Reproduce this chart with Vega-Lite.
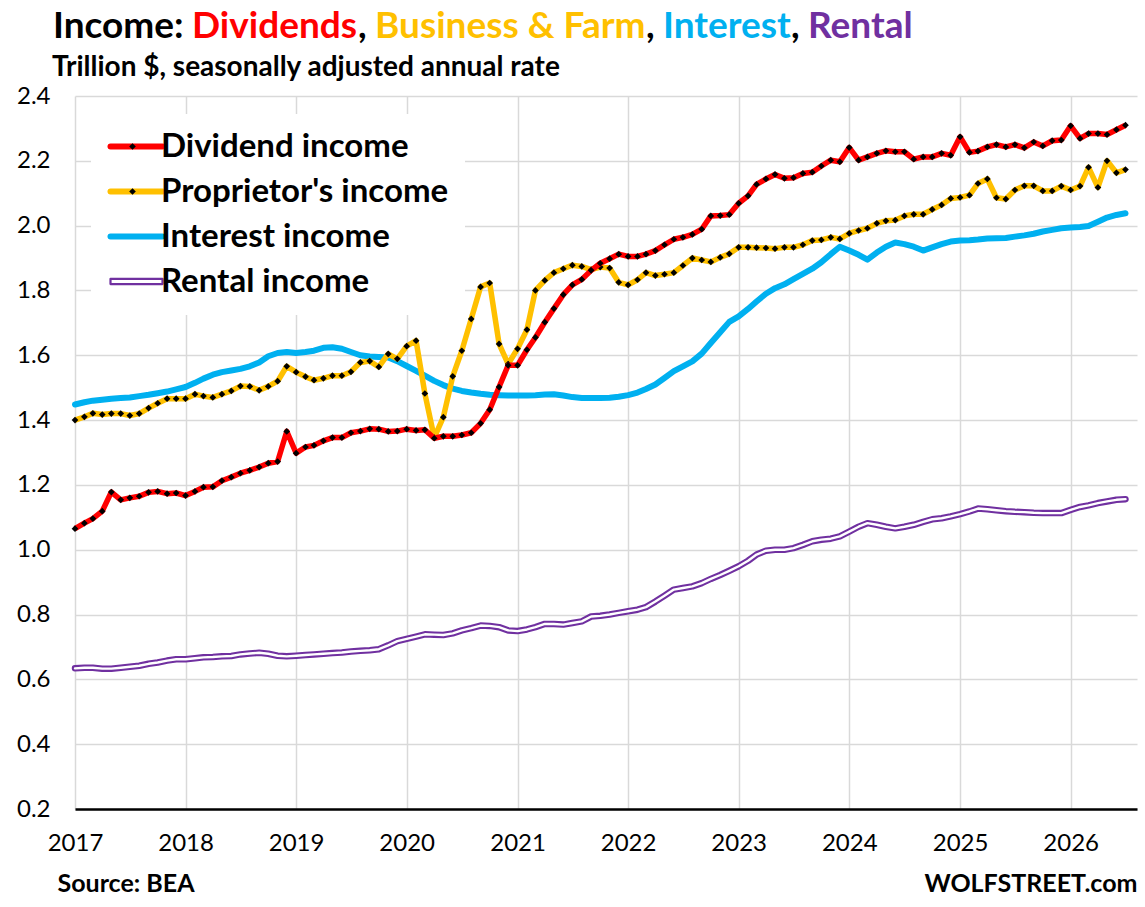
{
  "$schema": "https://vega.github.io/schema/vega-lite/v6.json",
  "background": "white",
  "padding": {"left": 16, "right": 8, "top": 8, "bottom": 4},
  "datasets": {
    "dividend": [
      {"month": "2017-01", "value": 1.065}, {"month": "2017-02", "value": 1.082}, {"month": "2017-03", "value": 1.096}, {"month": "2017-04", "value": 1.119},
      {"month": "2017-05", "value": 1.178}, {"month": "2017-06", "value": 1.154}, {"month": "2017-07", "value": 1.16}, {"month": "2017-08", "value": 1.165},
      {"month": "2017-09", "value": 1.177}, {"month": "2017-10", "value": 1.18}, {"month": "2017-11", "value": 1.173}, {"month": "2017-12", "value": 1.175},
      {"month": "2018-01", "value": 1.167}, {"month": "2018-02", "value": 1.18}, {"month": "2018-03", "value": 1.193}, {"month": "2018-04", "value": 1.194},
      {"month": "2018-05", "value": 1.213}, {"month": "2018-06", "value": 1.224}, {"month": "2018-07", "value": 1.236}, {"month": "2018-08", "value": 1.245},
      {"month": "2018-09", "value": 1.255}, {"month": "2018-10", "value": 1.267}, {"month": "2018-11", "value": 1.272}, {"month": "2018-12", "value": 1.365},
      {"month": "2019-01", "value": 1.298}, {"month": "2019-02", "value": 1.317}, {"month": "2019-03", "value": 1.322}, {"month": "2019-04", "value": 1.336},
      {"month": "2019-05", "value": 1.346}, {"month": "2019-06", "value": 1.346}, {"month": "2019-07", "value": 1.361}, {"month": "2019-08", "value": 1.366},
      {"month": "2019-09", "value": 1.373}, {"month": "2019-10", "value": 1.372}, {"month": "2019-11", "value": 1.365}, {"month": "2019-12", "value": 1.366},
      {"month": "2020-01", "value": 1.372}, {"month": "2020-02", "value": 1.368}, {"month": "2020-03", "value": 1.37}, {"month": "2020-04", "value": 1.344},
      {"month": "2020-05", "value": 1.35}, {"month": "2020-06", "value": 1.35}, {"month": "2020-07", "value": 1.354}, {"month": "2020-08", "value": 1.361},
      {"month": "2020-09", "value": 1.39}, {"month": "2020-10", "value": 1.432}, {"month": "2020-11", "value": 1.502}, {"month": "2020-12", "value": 1.569},
      {"month": "2021-01", "value": 1.569}, {"month": "2021-02", "value": 1.617}, {"month": "2021-03", "value": 1.655}, {"month": "2021-04", "value": 1.702},
      {"month": "2021-05", "value": 1.744}, {"month": "2021-06", "value": 1.787}, {"month": "2021-07", "value": 1.817}, {"month": "2021-08", "value": 1.834},
      {"month": "2021-09", "value": 1.862}, {"month": "2021-10", "value": 1.884}, {"month": "2021-11", "value": 1.898}, {"month": "2021-12", "value": 1.912},
      {"month": "2022-01", "value": 1.905}, {"month": "2022-02", "value": 1.905}, {"month": "2022-03", "value": 1.912}, {"month": "2022-04", "value": 1.923},
      {"month": "2022-05", "value": 1.941}, {"month": "2022-06", "value": 1.958}, {"month": "2022-07", "value": 1.964}, {"month": "2022-08", "value": 1.973},
      {"month": "2022-09", "value": 1.989}, {"month": "2022-10", "value": 2.03}, {"month": "2022-11", "value": 2.031}, {"month": "2022-12", "value": 2.034},
      {"month": "2023-01", "value": 2.069}, {"month": "2023-02", "value": 2.092}, {"month": "2023-03", "value": 2.127}, {"month": "2023-04", "value": 2.144},
      {"month": "2023-05", "value": 2.158}, {"month": "2023-06", "value": 2.146}, {"month": "2023-07", "value": 2.148}, {"month": "2023-08", "value": 2.161},
      {"month": "2023-09", "value": 2.165}, {"month": "2023-10", "value": 2.184}, {"month": "2023-11", "value": 2.202}, {"month": "2023-12", "value": 2.197},
      {"month": "2024-01", "value": 2.241}, {"month": "2024-02", "value": 2.202}, {"month": "2024-03", "value": 2.212}, {"month": "2024-04", "value": 2.223},
      {"month": "2024-05", "value": 2.231}, {"month": "2024-06", "value": 2.228}, {"month": "2024-07", "value": 2.228}, {"month": "2024-08", "value": 2.205},
      {"month": "2024-09", "value": 2.212}, {"month": "2024-10", "value": 2.212}, {"month": "2024-11", "value": 2.223}, {"month": "2024-12", "value": 2.217},
      {"month": "2025-01", "value": 2.274}, {"month": "2025-02", "value": 2.226}, {"month": "2025-03", "value": 2.23}, {"month": "2025-04", "value": 2.243},
      {"month": "2025-05", "value": 2.25}, {"month": "2025-06", "value": 2.243}, {"month": "2025-07", "value": 2.25}, {"month": "2025-08", "value": 2.24},
      {"month": "2025-09", "value": 2.258}, {"month": "2025-10", "value": 2.246}, {"month": "2025-11", "value": 2.262}, {"month": "2025-12", "value": 2.264},
      {"month": "2026-01", "value": 2.308}, {"month": "2026-02", "value": 2.269}, {"month": "2026-03", "value": 2.284}, {"month": "2026-04", "value": 2.284},
      {"month": "2026-05", "value": 2.281}, {"month": "2026-06", "value": 2.296}, {"month": "2026-07", "value": 2.31}
    ],
    "proprietor": [
      {"month": "2017-01", "value": 1.4}, {"month": "2017-02", "value": 1.41}, {"month": "2017-03", "value": 1.421}, {"month": "2017-04", "value": 1.417},
      {"month": "2017-05", "value": 1.42}, {"month": "2017-06", "value": 1.42}, {"month": "2017-07", "value": 1.414}, {"month": "2017-08", "value": 1.42},
      {"month": "2017-09", "value": 1.437}, {"month": "2017-10", "value": 1.452}, {"month": "2017-11", "value": 1.466}, {"month": "2017-12", "value": 1.466},
      {"month": "2018-01", "value": 1.466}, {"month": "2018-02", "value": 1.48}, {"month": "2018-03", "value": 1.474}, {"month": "2018-04", "value": 1.47},
      {"month": "2018-05", "value": 1.48}, {"month": "2018-06", "value": 1.49}, {"month": "2018-07", "value": 1.505}, {"month": "2018-08", "value": 1.504},
      {"month": "2018-09", "value": 1.492}, {"month": "2018-10", "value": 1.504}, {"month": "2018-11", "value": 1.52}, {"month": "2018-12", "value": 1.566},
      {"month": "2019-01", "value": 1.548}, {"month": "2019-02", "value": 1.534}, {"month": "2019-03", "value": 1.523}, {"month": "2019-04", "value": 1.529},
      {"month": "2019-05", "value": 1.537}, {"month": "2019-06", "value": 1.537}, {"month": "2019-07", "value": 1.549}, {"month": "2019-08", "value": 1.578},
      {"month": "2019-09", "value": 1.582}, {"month": "2019-10", "value": 1.564}, {"month": "2019-11", "value": 1.604}, {"month": "2019-12", "value": 1.589},
      {"month": "2020-01", "value": 1.628}, {"month": "2020-02", "value": 1.645}, {"month": "2020-03", "value": 1.482}, {"month": "2020-04", "value": 1.346},
      {"month": "2020-05", "value": 1.409}, {"month": "2020-06", "value": 1.535}, {"month": "2020-07", "value": 1.614}, {"month": "2020-08", "value": 1.712},
      {"month": "2020-09", "value": 1.811}, {"month": "2020-10", "value": 1.823}, {"month": "2020-11", "value": 1.635}, {"month": "2020-12", "value": 1.573},
      {"month": "2021-01", "value": 1.62}, {"month": "2021-02", "value": 1.679}, {"month": "2021-03", "value": 1.8}, {"month": "2021-04", "value": 1.831},
      {"month": "2021-05", "value": 1.855}, {"month": "2021-06", "value": 1.867}, {"month": "2021-07", "value": 1.878}, {"month": "2021-08", "value": 1.874},
      {"month": "2021-09", "value": 1.864}, {"month": "2021-10", "value": 1.872}, {"month": "2021-11", "value": 1.869}, {"month": "2021-12", "value": 1.825},
      {"month": "2022-01", "value": 1.817}, {"month": "2022-02", "value": 1.833}, {"month": "2022-03", "value": 1.855}, {"month": "2022-04", "value": 1.846},
      {"month": "2022-05", "value": 1.85}, {"month": "2022-06", "value": 1.855}, {"month": "2022-07", "value": 1.877}, {"month": "2022-08", "value": 1.9},
      {"month": "2022-09", "value": 1.894}, {"month": "2022-10", "value": 1.888}, {"month": "2022-11", "value": 1.902}, {"month": "2022-12", "value": 1.913},
      {"month": "2023-01", "value": 1.933}, {"month": "2023-02", "value": 1.933}, {"month": "2023-03", "value": 1.932}, {"month": "2023-04", "value": 1.931},
      {"month": "2023-05", "value": 1.929}, {"month": "2023-06", "value": 1.933}, {"month": "2023-07", "value": 1.933}, {"month": "2023-08", "value": 1.941},
      {"month": "2023-09", "value": 1.954}, {"month": "2023-10", "value": 1.956}, {"month": "2023-11", "value": 1.964}, {"month": "2023-12", "value": 1.959},
      {"month": "2024-01", "value": 1.976}, {"month": "2024-02", "value": 1.985}, {"month": "2024-03", "value": 1.992}, {"month": "2024-04", "value": 2.007},
      {"month": "2024-05", "value": 2.015}, {"month": "2024-06", "value": 2.017}, {"month": "2024-07", "value": 2.03}, {"month": "2024-08", "value": 2.035},
      {"month": "2024-09", "value": 2.035}, {"month": "2024-10", "value": 2.05}, {"month": "2024-11", "value": 2.064}, {"month": "2024-12", "value": 2.084},
      {"month": "2025-01", "value": 2.087}, {"month": "2025-02", "value": 2.094}, {"month": "2025-03", "value": 2.13}, {"month": "2025-04", "value": 2.144},
      {"month": "2025-05", "value": 2.086}, {"month": "2025-06", "value": 2.082}, {"month": "2025-07", "value": 2.11}, {"month": "2025-08", "value": 2.123},
      {"month": "2025-09", "value": 2.123}, {"month": "2025-10", "value": 2.107}, {"month": "2025-11", "value": 2.107}, {"month": "2025-12", "value": 2.122},
      {"month": "2026-01", "value": 2.11}, {"month": "2026-02", "value": 2.122}, {"month": "2026-03", "value": 2.18}, {"month": "2026-04", "value": 2.118},
      {"month": "2026-05", "value": 2.2}, {"month": "2026-06", "value": 2.163}, {"month": "2026-07", "value": 2.173}
    ],
    "interest": [
      {"month": "2017-01", "value": 1.448}, {"month": "2017-02", "value": 1.455}, {"month": "2017-03", "value": 1.46}, {"month": "2017-04", "value": 1.463},
      {"month": "2017-05", "value": 1.466}, {"month": "2017-06", "value": 1.468}, {"month": "2017-07", "value": 1.47}, {"month": "2017-08", "value": 1.474},
      {"month": "2017-09", "value": 1.478}, {"month": "2017-10", "value": 1.483}, {"month": "2017-11", "value": 1.488}, {"month": "2017-12", "value": 1.495},
      {"month": "2018-01", "value": 1.502}, {"month": "2018-02", "value": 1.515}, {"month": "2018-03", "value": 1.528}, {"month": "2018-04", "value": 1.54},
      {"month": "2018-05", "value": 1.548}, {"month": "2018-06", "value": 1.553}, {"month": "2018-07", "value": 1.558}, {"month": "2018-08", "value": 1.566},
      {"month": "2018-09", "value": 1.578}, {"month": "2018-10", "value": 1.597}, {"month": "2018-11", "value": 1.607}, {"month": "2018-12", "value": 1.61},
      {"month": "2019-01", "value": 1.607}, {"month": "2019-02", "value": 1.61}, {"month": "2019-03", "value": 1.614}, {"month": "2019-04", "value": 1.623},
      {"month": "2019-05", "value": 1.625}, {"month": "2019-06", "value": 1.62}, {"month": "2019-07", "value": 1.61}, {"month": "2019-08", "value": 1.6},
      {"month": "2019-09", "value": 1.596}, {"month": "2019-10", "value": 1.595}, {"month": "2019-11", "value": 1.593}, {"month": "2019-12", "value": 1.582},
      {"month": "2020-01", "value": 1.567}, {"month": "2020-02", "value": 1.552}, {"month": "2020-03", "value": 1.537}, {"month": "2020-04", "value": 1.521},
      {"month": "2020-05", "value": 1.508}, {"month": "2020-06", "value": 1.497}, {"month": "2020-07", "value": 1.49}, {"month": "2020-08", "value": 1.485},
      {"month": "2020-09", "value": 1.481}, {"month": "2020-10", "value": 1.478}, {"month": "2020-11", "value": 1.477}, {"month": "2020-12", "value": 1.476},
      {"month": "2021-01", "value": 1.476}, {"month": "2021-02", "value": 1.476}, {"month": "2021-03", "value": 1.477}, {"month": "2021-04", "value": 1.479},
      {"month": "2021-05", "value": 1.48}, {"month": "2021-06", "value": 1.476}, {"month": "2021-07", "value": 1.471}, {"month": "2021-08", "value": 1.468},
      {"month": "2021-09", "value": 1.468}, {"month": "2021-10", "value": 1.468}, {"month": "2021-11", "value": 1.469}, {"month": "2021-12", "value": 1.472},
      {"month": "2022-01", "value": 1.477}, {"month": "2022-02", "value": 1.485}, {"month": "2022-03", "value": 1.496}, {"month": "2022-04", "value": 1.51},
      {"month": "2022-05", "value": 1.53}, {"month": "2022-06", "value": 1.551}, {"month": "2022-07", "value": 1.566}, {"month": "2022-08", "value": 1.581},
      {"month": "2022-09", "value": 1.605}, {"month": "2022-10", "value": 1.638}, {"month": "2022-11", "value": 1.671}, {"month": "2022-12", "value": 1.703},
      {"month": "2023-01", "value": 1.72}, {"month": "2023-02", "value": 1.743}, {"month": "2023-03", "value": 1.766}, {"month": "2023-04", "value": 1.79},
      {"month": "2023-05", "value": 1.807}, {"month": "2023-06", "value": 1.819}, {"month": "2023-07", "value": 1.835}, {"month": "2023-08", "value": 1.851},
      {"month": "2023-09", "value": 1.867}, {"month": "2023-10", "value": 1.887}, {"month": "2023-11", "value": 1.912}, {"month": "2023-12", "value": 1.935},
      {"month": "2024-01", "value": 1.923}, {"month": "2024-02", "value": 1.91}, {"month": "2024-03", "value": 1.895}, {"month": "2024-04", "value": 1.917},
      {"month": "2024-05", "value": 1.935}, {"month": "2024-06", "value": 1.948}, {"month": "2024-07", "value": 1.943}, {"month": "2024-08", "value": 1.935},
      {"month": "2024-09", "value": 1.923}, {"month": "2024-10", "value": 1.933}, {"month": "2024-11", "value": 1.943}, {"month": "2024-12", "value": 1.951},
      {"month": "2025-01", "value": 1.954}, {"month": "2025-02", "value": 1.955}, {"month": "2025-03", "value": 1.957}, {"month": "2025-04", "value": 1.96},
      {"month": "2025-05", "value": 1.961}, {"month": "2025-06", "value": 1.962}, {"month": "2025-07", "value": 1.966}, {"month": "2025-08", "value": 1.97},
      {"month": "2025-09", "value": 1.975}, {"month": "2025-10", "value": 1.982}, {"month": "2025-11", "value": 1.987}, {"month": "2025-12", "value": 1.992},
      {"month": "2026-01", "value": 1.994}, {"month": "2026-02", "value": 1.996}, {"month": "2026-03", "value": 1.999}, {"month": "2026-04", "value": 2.012},
      {"month": "2026-05", "value": 2.025}, {"month": "2026-06", "value": 2.033}, {"month": "2026-07", "value": 2.038}
    ],
    "rental": [
      {"month": "2017-01", "value": 0.634}, {"month": "2017-02", "value": 0.636}, {"month": "2017-03", "value": 0.636}, {"month": "2017-04", "value": 0.633},
      {"month": "2017-05", "value": 0.633}, {"month": "2017-06", "value": 0.636}, {"month": "2017-07", "value": 0.639}, {"month": "2017-08", "value": 0.642},
      {"month": "2017-09", "value": 0.648}, {"month": "2017-10", "value": 0.652}, {"month": "2017-11", "value": 0.658}, {"month": "2017-12", "value": 0.662},
      {"month": "2018-01", "value": 0.662}, {"month": "2018-02", "value": 0.665}, {"month": "2018-03", "value": 0.668}, {"month": "2018-04", "value": 0.669},
      {"month": "2018-05", "value": 0.671}, {"month": "2018-06", "value": 0.672}, {"month": "2018-07", "value": 0.677}, {"month": "2018-08", "value": 0.68},
      {"month": "2018-09", "value": 0.682}, {"month": "2018-10", "value": 0.679}, {"month": "2018-11", "value": 0.673}, {"month": "2018-12", "value": 0.671},
      {"month": "2019-01", "value": 0.673}, {"month": "2019-02", "value": 0.675}, {"month": "2019-03", "value": 0.677}, {"month": "2019-04", "value": 0.679},
      {"month": "2019-05", "value": 0.681}, {"month": "2019-06", "value": 0.683}, {"month": "2019-07", "value": 0.686}, {"month": "2019-08", "value": 0.688},
      {"month": "2019-09", "value": 0.69}, {"month": "2019-10", "value": 0.693}, {"month": "2019-11", "value": 0.705}, {"month": "2019-12", "value": 0.718},
      {"month": "2020-01", "value": 0.725}, {"month": "2020-02", "value": 0.732}, {"month": "2020-03", "value": 0.739}, {"month": "2020-04", "value": 0.738},
      {"month": "2020-05", "value": 0.737}, {"month": "2020-06", "value": 0.742}, {"month": "2020-07", "value": 0.751}, {"month": "2020-08", "value": 0.758},
      {"month": "2020-09", "value": 0.766}, {"month": "2020-10", "value": 0.765}, {"month": "2020-11", "value": 0.761}, {"month": "2020-12", "value": 0.751},
      {"month": "2021-01", "value": 0.749}, {"month": "2021-02", "value": 0.754}, {"month": "2021-03", "value": 0.761}, {"month": "2021-04", "value": 0.771},
      {"month": "2021-05", "value": 0.771}, {"month": "2021-06", "value": 0.769}, {"month": "2021-07", "value": 0.774}, {"month": "2021-08", "value": 0.779},
      {"month": "2021-09", "value": 0.794}, {"month": "2021-10", "value": 0.796}, {"month": "2021-11", "value": 0.8}, {"month": "2021-12", "value": 0.805},
      {"month": "2022-01", "value": 0.81}, {"month": "2022-02", "value": 0.815}, {"month": "2022-03", "value": 0.823}, {"month": "2022-04", "value": 0.84},
      {"month": "2022-05", "value": 0.858}, {"month": "2022-06", "value": 0.877}, {"month": "2022-07", "value": 0.882}, {"month": "2022-08", "value": 0.887},
      {"month": "2022-09", "value": 0.897}, {"month": "2022-10", "value": 0.91}, {"month": "2022-11", "value": 0.922}, {"month": "2022-12", "value": 0.935},
      {"month": "2023-01", "value": 0.949}, {"month": "2023-02", "value": 0.966}, {"month": "2023-03", "value": 0.985}, {"month": "2023-04", "value": 0.997},
      {"month": "2023-05", "value": 1.0}, {"month": "2023-06", "value": 1.0}, {"month": "2023-07", "value": 1.005}, {"month": "2023-08", "value": 1.015},
      {"month": "2023-09", "value": 1.026}, {"month": "2023-10", "value": 1.031}, {"month": "2023-11", "value": 1.034}, {"month": "2023-12", "value": 1.041},
      {"month": "2024-01", "value": 1.056}, {"month": "2024-02", "value": 1.071}, {"month": "2024-03", "value": 1.082}, {"month": "2024-04", "value": 1.077},
      {"month": "2024-05", "value": 1.071}, {"month": "2024-06", "value": 1.066}, {"month": "2024-07", "value": 1.071}, {"month": "2024-08", "value": 1.077},
      {"month": "2024-09", "value": 1.086}, {"month": "2024-10", "value": 1.094}, {"month": "2024-11", "value": 1.097}, {"month": "2024-12", "value": 1.103},
      {"month": "2025-01", "value": 1.11}, {"month": "2025-02", "value": 1.118}, {"month": "2025-03", "value": 1.127}, {"month": "2025-04", "value": 1.125},
      {"month": "2025-05", "value": 1.122}, {"month": "2025-06", "value": 1.119}, {"month": "2025-07", "value": 1.117}, {"month": "2025-08", "value": 1.116},
      {"month": "2025-09", "value": 1.114}, {"month": "2025-10", "value": 1.113}, {"month": "2025-11", "value": 1.113}, {"month": "2025-12", "value": 1.113},
      {"month": "2026-01", "value": 1.123}, {"month": "2026-02", "value": 1.132}, {"month": "2026-03", "value": 1.137}, {"month": "2026-04", "value": 1.144},
      {"month": "2026-05", "value": 1.149}, {"month": "2026-06", "value": 1.154}, {"month": "2026-07", "value": 1.156}
    ]
  },
  "vconcat": [
    {
      "spacing": 0,
      "hconcat": [
        {"width": 1, "height": 1, "data": {"values": []}, "mark": "point", "title": {"text": "Income:", "color": "#000000", "dx": -22}},
        {"width": 1, "height": 1, "data": {"values": []}, "mark": "point", "title": {"text": "Dividends", "color": "#FF0000", "dx": 8}},
        {"width": 1, "height": 1, "data": {"values": []}, "mark": "point", "title": {"text": ",", "color": "#000000"}},
        {"width": 1, "height": 1, "data": {"values": []}, "mark": "point", "title": {"text": "Business & Farm", "color": "#FFC000", "dx": 8}},
        {"width": 1, "height": 1, "data": {"values": []}, "mark": "point", "title": {"text": ",", "color": "#000000"}},
        {"width": 1, "height": 1, "data": {"values": []}, "mark": "point", "title": {"text": "Interest", "color": "#00B0F0", "dx": 8}},
        {"width": 1, "height": 1, "data": {"values": []}, "mark": "point", "title": {"text": ",", "color": "#000000"}},
        {"width": 1, "height": 1, "data": {"values": []}, "mark": "point", "title": {"text": "Rental", "color": "#7030A0", "dx": 8}}
      ]
    },
    {
      "width": 1062,
      "height": 713,
      "title": {"text": "Trillion $, seasonally adjusted annual rate", "fontSize": 28, "frame": "group", "dx": -23, "offset": 2},
      "resolve": {"axis": {"x": "independent"}},
      "encoding": {
        "x": {"field": "month", "type": "temporal", "scale": {"type": "utc", "domain": [{"year": 2017, "month": 1, "date": 1, "utc": true}, {"year": 2026, "month": 8, "date": 8, "utc": true}]}, "axis": null},
        "y": {
          "field": "value", "type": "quantitative",
          "scale": {"domain": [0.2, 2.4], "nice": false, "zero": false},
          "axis": {"values": [0.2, 0.4, 0.6, 0.8, 1.0, 1.2, 1.4, 1.6, 1.8, 2.0, 2.2, 2.4], "format": ".1f", "title": null, "labelPadding": 25}
        }
      },
      "layer": [
        {
          "data": {"name": "interest"},
          "mark": {"type": "line", "strokeWidth": 6, "strokeJoin": "round", "strokeCap": "round"},
          "encoding": {
            "x": {
              "field": "month", "type": "temporal",
              "scale": {"type": "utc", "domain": [{"year": 2017, "month": 1, "date": 1, "utc": true}, {"year": 2026, "month": 8, "date": 8, "utc": true}]},
              "axis": {
                "format": "%Y", "tickCount": {"interval": "year", "step": 1}, "labelFlush": false, "grid": true,
                "domain": true, "domainColor": "#000000", "domainWidth": 2.5, "labelPadding": 22,
                "title": "Source: BEA", "titleFontSize": 25, "titleFontWeight": "bold", "titleAnchor": "start", "titleAlign": "left", "titleX": -18, "titlePadding": 16
              }
            },
            "color": {
              "datum": "Interest income", "type": "nominal",
              "scale": {"domain": ["Dividend income", "Proprietor's income", "Interest income", "Rental income"], "range": ["#FF0000", "#FFC000", "#00B0F0", "#7030A0"]},
              "legend": {
                "orient": "none", "legendX": 16, "legendY": 64, "title": null, "padding": 16, "fillColor": "white",
                "symbolType": "M-2,0H2", "symbolSize": 676, "symbolStrokeWidth": 6, "symbolOffset": 13,
                "labelFontSize": 33, "labelFontWeight": "bold", "labelColor": "#000000", "labelOffset": 8, "labelLimit": 500, "rowPadding": 11,
                "encode": {
                  "symbols": {
                    "update": {
                      "shape": {"signal": "datum.value === 'Rental income' ? 'M-2,-0.2H2V0.2H-2Z' : 'M-2,0H2'"},
                      "strokeWidth": {"signal": "datum.value === 'Rental income' ? 2.2 : 6"},
                      "fill": {"signal": "datum.value === 'Rental income' ? '#ffffff' : 'transparent'"},
                      "strokeCap": {"value": "round"},
                      "strokeJoin": {"value": "round"}
                    }
                  }
                }
              }
            }
          }
        },
        {
          "data": {"name": "rental"},
          "mark": {"type": "line", "strokeWidth": 6.5, "strokeJoin": "round", "strokeCap": "round"},
          "encoding": {
            "x": {
              "field": "month", "type": "temporal",
              "scale": {"type": "utc", "domain": [{"year": 2017, "month": 1, "date": 1, "utc": true}, {"year": 2026, "month": 8, "date": 8, "utc": true}]},
              "axis": {
                "orient": "bottom", "format": "%Y", "tickCount": {"interval": "year", "step": 1}, "labelFlush": false, "grid": false,
                "domain": false, "labelOpacity": 0, "labelPadding": 22,
                "title": "WOLFSTREET.com", "titleFontSize": 25, "titleFontWeight": "bold", "titleAnchor": "end", "titleAlign": "right", "titlePadding": 16
              }
            },
            "color": {"datum": "Rental income", "type": "nominal"}
          }
        },
        {
          "data": {"name": "rental"},
          "mark": {"type": "line", "strokeWidth": 2.4, "color": "#ffffff", "strokeJoin": "round", "strokeCap": "round"},
          "encoding": {}
        },
        {
          "data": {"name": "proprietor"},
          "mark": {"type": "line", "strokeWidth": 5.5, "strokeJoin": "round"},
          "encoding": {"color": {"datum": "Proprietor's income", "type": "nominal"}}
        },
        {
          "data": {"name": "proprietor"},
          "mark": {"type": "point", "shape": "diamond", "filled": true, "size": 45, "opacity": 1},
          "encoding": {
            "fill": {
              "datum": "Proprietor's income", "type": "nominal",
              "scale": {"domain": ["Dividend income", "Proprietor's income"], "range": ["#000000", "#000000"]},
              "legend": {
                "orient": "none", "legendX": 25, "legendY": 64, "title": null, "padding": 16,
                "symbolType": "M0,-0.2L0.2,0L0,0.2L-0.2,0Z", "symbolSize": 1089, "symbolStrokeWidth": 0, "symbolOpacity": 1,
                "labelExpr": "''", "labelFontSize": 33, "labelFontWeight": "bold", "labelOffset": 8, "labelLimit": 500, "rowPadding": 11
              }
            }
          }
        },
        {
          "data": {"name": "dividend"},
          "mark": {"type": "line", "strokeWidth": 5.5, "strokeJoin": "round"},
          "encoding": {"color": {"datum": "Dividend income", "type": "nominal"}}
        },
        {
          "data": {"name": "dividend"},
          "mark": {"type": "point", "shape": "diamond", "filled": true, "size": 45, "opacity": 1},
          "encoding": {"fill": {"datum": "Dividend income", "type": "nominal"}}
        }
      ]
    }
  ],
  "spacing": 3,
  "config": {
    "font": "Lato",
    "view": {"stroke": null},
    "title": {"font": "Lato", "fontSize": 37, "fontWeight": "bold", "anchor": "start", "color": "#000000", "offset": 0},
    "axis": {
      "labelFont": "Lato", "labelFontSize": 24, "labelColor": "#000000",
      "titleFont": "Lato", "titleColor": "#000000",
      "gridColor": "#D9D9D9", "gridWidth": 1.5, "ticks": false, "domain": false
    },
    "legend": {"labelFont": "Lato"}
  }
}
